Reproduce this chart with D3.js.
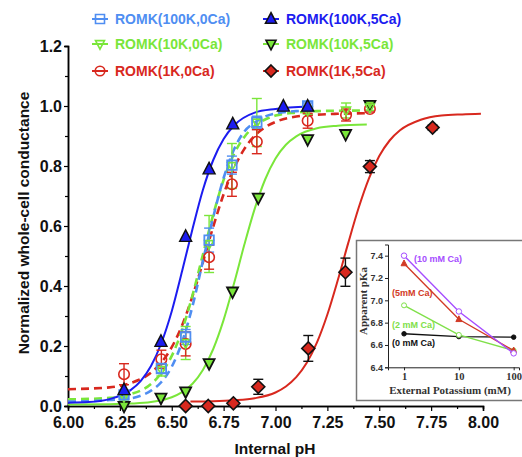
<!DOCTYPE html>
<html><head><meta charset="utf-8">
<script src="https://cdn.jsdelivr.net/npm/d3@7"></script>
<style>body{margin:0;background:#fff}svg{display:block;font-family:"Liberation Sans",Arial,sans-serif}</style>
</head><body>
<svg id="c" width="522" height="457"></svg>
<script>
// ---------- data ----------
const legendLabels = ["ROMK(100K,0Ca)","ROMK(10K,0Ca)","ROMK(1K,0Ca)","ROMK(100K,5Ca)","ROMK(10K,5Ca)","ROMK(1K,5Ca)"];
const xTicks = [6.00,6.25,6.50,6.75,7.00,7.25,7.50,7.75,8.00];
const yTicks = [0.0,0.2,0.4,0.6,0.8,1.0,1.2];

// ROMK(100K,0Ca) open squares
const b0X = [6.27,6.45,6.567,6.68,6.79,6.91,7.155];
const b0Y = [0.037,0.125,0.23,0.553,0.803,0.946,1.0];
const b0E = [0.01,0.015,0.025,0.04,0.03,0.02,0.01];
// ROMK(10K,0Ca) open down triangles
const g0X = [6.27,6.45,6.567,6.68,6.79,6.91,7.155,7.34,7.455];
const g0Y = [0.03,0.12,0.21,0.54,0.80,0.945,0.985,0.985,0.995];
const g0E = [0.01,0.02,0.055,0.095,0.075,0.08,0.012,0.025,0.01];
// ROMK(1K,0Ca) open circles
const r0X = [6.27,6.45,6.567,6.68,6.79,6.91,7.155,7.34,7.455];
const r0Y = [0.106,0.156,0.207,0.496,0.739,0.881,0.951,0.970,0.99];
const r0E = [0.035,0.03,0.04,0.04,0.04,0.04,0.025,0.02,0.01];
// ROMK(100K,5Ca) filled triangles
const b5X = [6.27,6.448,6.567,6.68,6.794,7.038,7.155];
const b5Y = [0.053,0.214,0.564,0.789,0.939,0.998,0.998];
// ROMK(10K,5Ca) filled down triangles
const g5X = [6.27,6.448,6.567,6.68,6.793,6.917,7.155,7.338,7.455];
const g5Y = [0.0,0.027,0.048,0.142,0.381,0.694,0.889,0.906,1.003];
// ROMK(1K,5Ca) diamonds
const r5X = [6.567,6.676,6.797,6.917,7.158,7.337,7.455,7.757];
const r5Y = [0.0,0.0,0.009,0.064,0.192,0.446,0.798,0.928];
const r5E = [0,0,0.008,0.025,0.043,0.047,0.02,0.008];

// fitted curves
const cB5X = [6.00,6.10,6.20,6.30,6.35,6.40,6.45,6.50,6.55,6.60,6.65,6.70,6.75,6.80,6.90,7.00,7.16];
const cB5Y = [0.011,0.013,0.023,0.052,0.083,0.133,0.21,0.316,0.45,0.59,0.72,0.82,0.89,0.935,0.978,0.99,0.998];
const cB0X = [6.00,6.10,6.20,6.30,6.35,6.40,6.45,6.50,6.55,6.60,6.65,6.70,6.75,6.80,6.85,6.90,6.95,7.00,7.10,7.16];
const cB0Y = [0.015,0.016,0.020,0.025,0.034,0.051,0.08,0.131,0.214,0.333,0.483,0.63,0.76,0.855,0.915,0.945,0.965,0.975,0.983,0.985];
const cG0X = [6.00,6.20,6.30,6.40,6.45,6.50,6.55,6.60,6.65,6.70,6.75,6.80,6.85,6.90,6.95,7.00,7.10,7.20,7.44];
const cG0Y = [0.022,0.027,0.039,0.073,0.11,0.167,0.253,0.369,0.504,0.638,0.754,0.84,0.897,0.934,0.955,0.968,0.978,0.983,0.985];
const cR0X = [6.00,6.20,6.30,6.40,6.45,6.50,6.55,6.60,6.65,6.70,6.75,6.80,6.85,6.90,6.95,7.00,7.10,7.20,7.30,7.44];
const cR0Y = [0.056,0.062,0.076,0.111,0.145,0.196,0.269,0.366,0.479,0.598,0.706,0.793,0.857,0.901,0.929,0.947,0.965,0.971,0.974,0.976];
const cG5X = [6.00,6.20,6.30,6.40,6.50,6.55,6.60,6.65,6.70,6.75,6.80,6.85,6.90,6.95,7.00,7.05,7.10,7.20,7.30,7.44];
const cG5Y = [0.005,0.006,0.008,0.013,0.029,0.046,0.074,0.12,0.19,0.287,0.408,0.538,0.658,0.755,0.825,0.871,0.899,0.926,0.934,0.938];
const cR5X = [6.59,6.70,6.80,6.90,7.00,7.05,7.10,7.15,7.20,7.25,7.30,7.35,7.40,7.45,7.50,7.55,7.60,7.70,7.80,7.90,7.99];
const cR5Y = [0.015,0.016,0.019,0.026,0.045,0.065,0.096,0.143,0.212,0.305,0.419,0.542,0.659,0.758,0.833,0.885,0.919,0.954,0.968,0.972,0.974];

// inset data
const insetK = [1,10,100];
const insetLabels = ["(10 mM Ca)","(5mM Ca)","(2 mM Ca)","(0 mM Ca)"];
const pKa10 = [7.40,6.90,6.525];
const pKa5 = [7.33,6.83,6.55];
const pKa2 = [6.955,6.69,6.55];
const pKa0 = [6.70,6.675,6.67];
const insetYTicks = [6.4,6.6,6.8,7.0,7.2,7.4];

// ---------- styles ----------
const C = {blueD:"#1c1cf0", blueL:"#4f8ef2", green:"#7ae63a", red:"#d8281e", purple:"#a64dff", iRed:"#d23a26", iGreen:"#80e04a"};

const svg = d3.select("#c");
const x = d3.scaleLinear().domain([6,8]).range([68,483]);
const y = d3.scaleLinear().domain([0,1.2]).range([406,46]);

// symbol path generators (size in px)
const sym = {
  triUp: s => `M0,${-s*0.58}L${s/2},${s*0.38}L${-s/2},${s*0.38}Z`,
  triDown: s => `M0,${s*0.58}L${s/2},${-s*0.38}L${-s/2},${-s*0.38}Z`,
  square: s => `M${-s/2},${-s/2}h${s}v${s}h${-s}Z`,
  diamond: s => `M0,${-s/2}L${s/2},0L0,${s/2}L${-s/2},0Z`,
  circle: s => `M${s/2},0A${s/2},${s/2} 0 1,1 ${-s/2},0A${s/2},${s/2} 0 1,1 ${s/2},0Z`
};

// ---------- axes ----------
const gx = svg.append("g").attr("transform","translate(0,406)");
gx.call(d3.axisBottom(x).tickValues(xTicks).tickFormat(d3.format(".2f")).tickSize(5).tickPadding(6));
gx.append("g").call(d3.axisBottom(x).tickValues(d3.range(6.125,8,0.25)).tickFormat("").tickSize(3));
const gy = svg.append("g").attr("transform","translate(68,0)");
gy.call(d3.axisLeft(y).tickValues(yTicks).tickFormat(d3.format(".1f")).tickSize(4).tickPadding(2));
gy.append("g").call(d3.axisLeft(y).tickValues([0.1,0.3,0.5,0.7,0.9,1.1]).tickFormat("").tickSize(3));
[gx,gy].forEach(g=>{
  g.selectAll("path.domain").attr("stroke","#000").attr("stroke-width",1.5);
  g.selectAll("line").attr("stroke","#000").attr("stroke-width",1.2);
  g.selectAll("text").attr("font-size",16).attr("font-weight","bold").attr("fill","#111").attr("font-family","'Liberation Sans',Arial,sans-serif");
});
gx.selectAll("g.tick text").attr("dy","0.71em");

svg.append("text").attr("x",275).attr("y",454).attr("text-anchor","middle")
  .attr("font-size",15.5).attr("font-weight","bold").attr("fill","#111").text("Internal pH");
svg.append("text").attr("transform","translate(29,223) rotate(-90)").attr("text-anchor","middle")
  .attr("font-size",15.5).attr("font-weight","bold").attr("fill","#111").text("Normalized whole-cell conductance");

// ---------- curves ----------
const line = d3.line().x(d=>x(d[0])).y(d=>y(d[1])).curve(d3.curveMonotoneX);
const zip = (a,b,c) => a.map((v,i)=>[v,b[i],c?c[i]:0]);
const curves = [
  {X:cR5X,Y:cR5Y,c:C.red,dash:null},
  {X:cG5X,Y:cG5Y,c:C.green,dash:null},
  {X:cR0X,Y:cR0Y,c:C.red,dash:"8,5"},
  {X:cG0X,Y:cG0Y,c:C.green,dash:"8,5"},
  {X:cB0X,Y:cB0Y,c:C.blueL,dash:"8,5"},
  {X:cB5X,Y:cB5Y,c:C.blueD,dash:null}
];
curves.forEach(cv=>{
  svg.append("path").attr("d",line(zip(cv.X,cv.Y))).attr("fill","none")
    .attr("stroke",cv.c).attr("stroke-width",cv.dash?2.6:2).attr("stroke-dasharray",cv.dash);
});

// ---------- error bars ----------
function errBars(X,Y,E,color){
  const g = svg.append("g").attr("stroke",color).attr("stroke-width",1.4).attr("fill","none");
  zip(X,Y,E).filter(d=>d[2]>0.006).forEach(d=>{
    const cx=x(d[0]), t=y(d[1]+d[2]), b=y(d[1]-d[2]);
    g.append("line").attr("x1",cx).attr("x2",cx).attr("y1",t).attr("y2",b);
    g.append("line").attr("x1",cx-5).attr("x2",cx+5).attr("y1",t).attr("y2",t);
    g.append("line").attr("x1",cx-5).attr("x2",cx+5).attr("y1",b).attr("y2",b);
  });
}
errBars(r5X,r5Y,r5E,"#111");
errBars(g0X,g0Y,g0E,C.green);
errBars(r0X,r0Y,r0E,C.red);
errBars(b0X,b0Y,b0E,C.blueL);

// ---------- markers ----------
function markers(X,Y,shape,size,fill,stroke,sw){
  svg.append("g").selectAll("path").data(zip(X,Y)).join("path")
    .attr("transform",d=>`translate(${x(d[0])},${y(d[1])})`)
    .attr("d",sym[shape](size)).attr("fill",fill).attr("stroke",stroke).attr("stroke-width",sw);
}
markers(r5X,r5Y,"diamond",13,C.red,"#111",1.6);
markers(g5X,g5Y,"triDown",11,C.green,"#111",1.8);
markers(r0X,r0Y,"circle",10.5,"none",C.red,1.6);
markers(g0X,g0Y,"triDown",9,"none",C.green,1.6);
markers(b0X,b0Y,"square",9.5,"none",C.blueL,1.8);
markers(b5X,b5Y,"triUp",12,C.blueD,"#111",1.4);

// ---------- legend ----------
const legItems = [
  {lx:100,ly:19,c:C.blueL,shape:"square",size:9,fill:"none",stroke:C.blueL},
  {lx:100,ly:44,c:C.green,shape:"triDown",size:9,fill:"none",stroke:C.green},
  {lx:100,ly:71,c:C.red,shape:"circle",size:9.5,fill:"none",stroke:C.red},
  {lx:271,ly:19,c:C.blueD,shape:"triUp",size:11,fill:C.blueD,stroke:"#111"},
  {lx:271,ly:44,c:C.green,shape:"triDown",size:10,fill:C.green,stroke:"#111"},
  {lx:271,ly:71,c:C.red,shape:"diamond",size:12,fill:C.red,stroke:"#111"}
];
legItems.forEach((it,i)=>{
  const g = svg.append("g").attr("transform",`translate(${it.lx},${it.ly})`);
  g.append("line").attr("x1",-8).attr("x2",8).attr("stroke",it.c).attr("stroke-width",2);
  g.append("path").attr("d",sym[it.shape](it.size)).attr("fill",it.fill).attr("stroke",it.stroke).attr("stroke-width",1.6);
  g.append("text").attr("x",15).attr("y",5).attr("font-size",14).attr("font-weight","bold")
    .attr("fill",it.c).text(legendLabels[i]);
});

// ---------- inset ----------
svg.append("rect").attr("x",356.5).attr("y",240.5).attr("width",170).attr("height",160)
  .attr("fill","#fff").attr("stroke","#777").attr("stroke-width",1.5);
const ix = d3.scaleLog().domain([0.51,125]).range([388,519]);
const iy = d3.scaleLinear().domain([6.4,7.5]).range([367.3,244.5]);
const igx = svg.append("g").attr("transform","translate(0,367.3)")
  .call(d3.axisBottom(ix).tickValues(insetK).tickFormat(d3.format("d")).tickSize(3).tickPadding(2));
const igy = svg.append("g").attr("transform","translate(388,0)")
  .call(d3.axisLeft(iy).tickValues(insetYTicks).tickFormat(d3.format(".1f")).tickSize(3).tickPadding(2));
[igx,igy].forEach(g=>{
  g.selectAll("path.domain").attr("stroke","#222").attr("stroke-width",1);
  g.selectAll("line").attr("stroke","#222");
  g.selectAll("text").attr("font-size",9).attr("font-weight","bold").attr("fill","#333").attr("font-family","'Liberation Sans',Arial,sans-serif");
});
igx.selectAll("text").attr("font-family","'Liberation Serif','Times New Roman',serif").attr("font-size",10.5);
svg.append("text").attr("x",450).attr("y",394).attr("text-anchor","middle")
  .attr("font-family","'Liberation Serif','Times New Roman',serif").attr("font-weight","bold")
  .attr("font-size",11).attr("fill","#333").text("External Potassium (mM)");
svg.append("text").attr("transform","translate(367,301) rotate(-90)").attr("text-anchor","middle")
  .attr("font-family","'Liberation Serif','Times New Roman',serif").attr("font-weight","bold")
  .attr("font-size",11).attr("fill","#333").text("Apparent pKa");

const iline = d3.line().x(d=>ix(d[0])).y(d=>iy(d[1]));
const inset = [
  {Y:pKa0,c:"#111",shape:"circle",size:4.5,fill:"#111"},
  {Y:pKa2,c:C.iGreen,shape:"circle",size:5,fill:"#fff"},
  {Y:pKa5,c:C.iRed,shape:"triUp",size:6,fill:C.iRed},
  {Y:pKa10,c:C.purple,shape:"circle",size:5.5,fill:"#fff"}
];
inset.forEach(s=>{
  const pts = zip(insetK,s.Y);
  svg.append("path").attr("d",iline(pts)).attr("fill","none").attr("stroke",s.c).attr("stroke-width",1.4);
  svg.append("g").selectAll("path").data(pts).join("path")
    .attr("transform",d=>`translate(${ix(d[0])},${iy(d[1])})`)
    .attr("d",sym[s.shape](s.size)).attr("fill",s.fill).attr("stroke",s.c).attr("stroke-width",1);
});
const insetLabPos = [[414,262,C.purple],[392,296,C.iRed],[392,328,C.iGreen],[392,346,"#111"]];
insetLabPos.forEach((p,i)=>{
  svg.append("text").attr("x",p[0]).attr("y",p[1]).attr("font-size",9).attr("font-weight","bold")
    .attr("fill",p[2]).text(insetLabels[i]);
});
</script>
</body></html>
